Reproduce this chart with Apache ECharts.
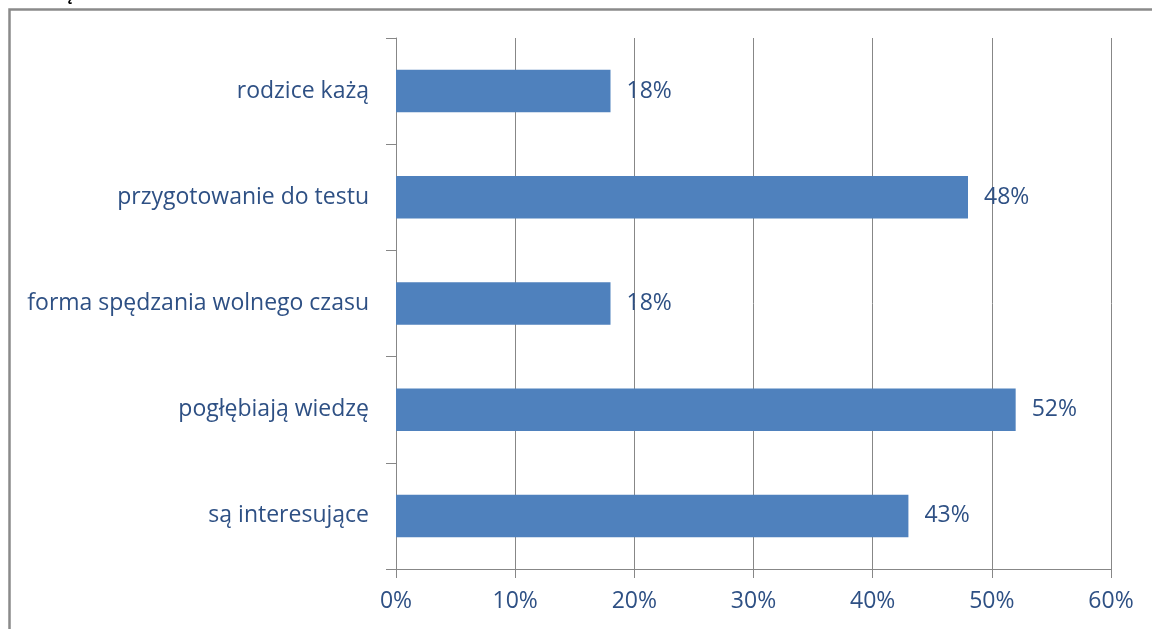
<!DOCTYPE html>
<html><head><meta charset="utf-8">
<script src="https://cdn.jsdelivr.net/npm/echarts@6/dist/echarts.min.js"></script>
<style>html,body{margin:0;padding:0;background:#fff;}#c{width:1152px;height:629px;}</style>
</head><body><div id="c"></div>
<script>
const categories = ['rodzice każą','przygotowanie do testu','forma spędzania wolnego czasu','pogłębiają wiedzę','są interesujące'];
const values = [18,48,18,52,43];
const xTicks = [0,10,20,30,40,50,60];
const textColor = '#2E5084';
const font = 'Open Sans';
const chart = echarts.init(document.getElementById('c'));
chart.setOption({
  animation:false,
  backgroundColor:'#fff',
  grid:{left:396,right:41,top:38,bottom:60,containLabel:false},
  xAxis:{type:'value',min:xTicks[0],max:xTicks[xTicks.length-1],interval:10,
    axisLine:{show:true,lineStyle:{color:'#878787',width:1}},
    axisTick:{show:true,length:9,lineStyle:{color:'#878787'}},
    splitLine:{show:true,lineStyle:{color:'#878787',width:1}},
    axisLabel:{formatter:'{value}%',color:textColor,fontSize:23,fontFamily:font,margin:21}},
  yAxis:{type:'category',data:categories,inverse:true,
    axisLine:{show:true,lineStyle:{color:'#878787',width:1}},
    axisTick:{show:true,length:10,lineStyle:{color:'#878787'}},
    axisLabel:{color:textColor,fontSize:23,fontFamily:font,margin:27}},
  series:[{type:'bar',data:values,barWidth:'40%',itemStyle:{color:'#4F81BD'},
    label:{show:true,position:'right',distance:16,formatter:'{c}%',color:textColor,fontSize:23,fontFamily:font}}],
  graphic:[
    {type:'rect',shape:{x:9.5,y:9.5,width:2000,height:2000},style:{fill:null,stroke:'#8a8a8a',lineWidth:2.5},silent:true},
    {type:'text',left:62,top:-14,style:{text:'ą',fill:'#000',font:'bold 18px "Open Sans"'}}
  ]
});
</script></body></html>
